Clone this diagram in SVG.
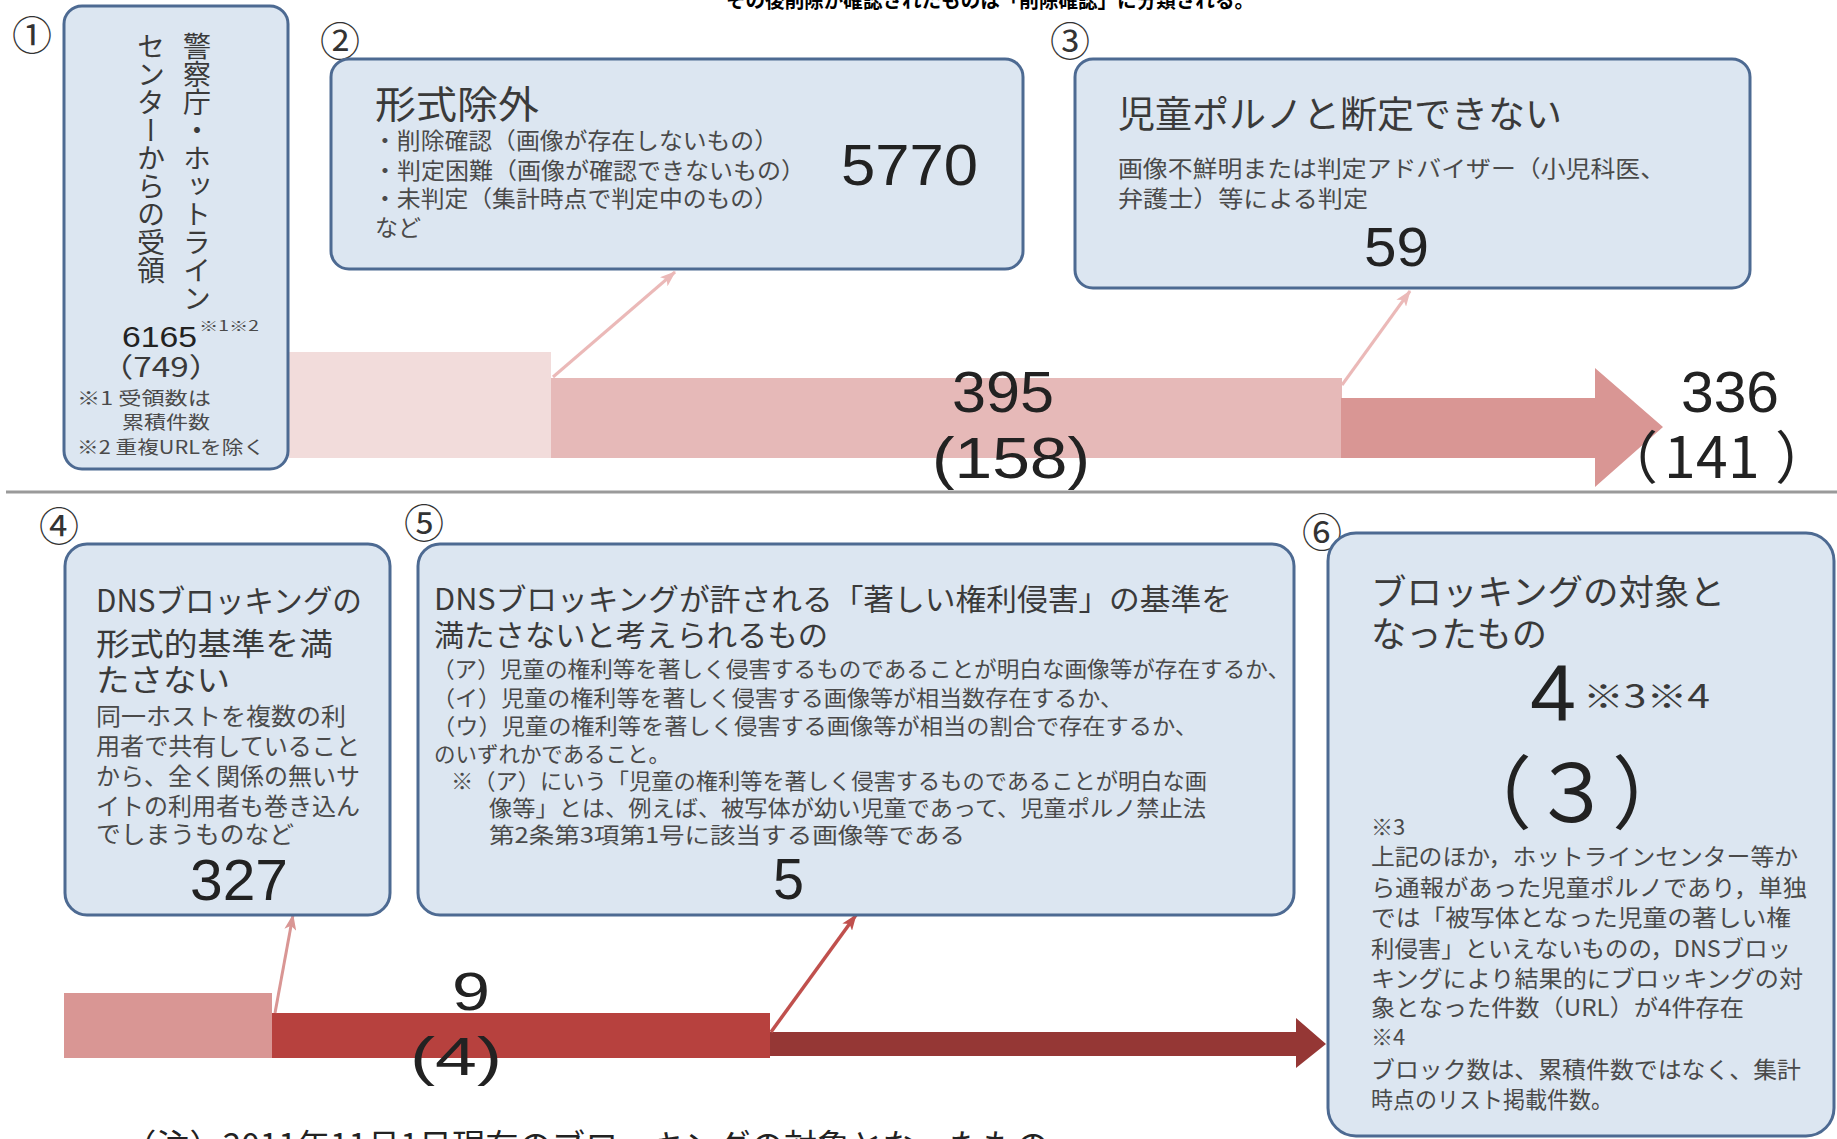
<svg xmlns="http://www.w3.org/2000/svg" width="1837" height="1139" viewBox="0 0 1837 1139">
<style>
.box{fill:#dce6f1;stroke:#4d6a92;stroke-width:3}
.jp{font-family:"Noto Sans CJK JP","Noto Sans",sans-serif}
.num{font-family:"Liberation Sans",Arial,sans-serif;fill:#222}
.ttl{fill:#3a3a3a}
.body{fill:#4a4a4a}
.circ{font-family:"Noto Sans CJK JP","DejaVu Sans",sans-serif;font-size:40px;fill:#333}
.vert{writing-mode:vertical-rl;text-orientation:upright}
</style>
<defs>
<marker id="ahLight" viewBox="0 0 16 12" refX="15" refY="6" markerWidth="16" markerHeight="12" orient="auto" markerUnits="userSpaceOnUse"><path d="M0,0 L16,6 L0,12 L4,6 z" fill="#ebb9b8"/></marker>
<marker id="ahMid" viewBox="0 0 16 12" refX="15" refY="6" markerWidth="16" markerHeight="12" orient="auto" markerUnits="userSpaceOnUse"><path d="M0,0 L16,6 L0,12 L4,6 z" fill="#d99694"/></marker>
<marker id="ahRed" viewBox="0 0 16 12" refX="15" refY="6" markerWidth="16" markerHeight="12" orient="auto" markerUnits="userSpaceOnUse"><path d="M0,0 L16,6 L0,12 L4,6 z" fill="#c0504d"/></marker>
</defs>
<rect width="1837" height="1139" fill="#ffffff"/>

<text class="jp" x="726" y="8" font-size="20" font-weight="bold" fill="#000" textLength="528" lengthAdjust="spacingAndGlyphs">その後削除が確認されたものは「削除確認」に分類される。</text>

<line x1="6" y1="492" x2="1837" y2="492" stroke="#9a9a9a" stroke-width="3"/>

<g id="connectors">
  <rect x="289" y="352" width="262" height="106" fill="#f2dcdb"/>
  <rect x="551" y="378" width="791" height="80" fill="#e6b9b8"/>
  <polygon points="1341,398 1595,398 1595,368 1663,427 1595,487 1595,458 1341,458" fill="#d99694"/>
  <line x1="553" y1="377" x2="675" y2="272" stroke="#ebb9b8" stroke-width="3" marker-end="url(#ahLight)"/>
  <line x1="1342" y1="385" x2="1410" y2="291" stroke="#ebb9b8" stroke-width="3" marker-end="url(#ahLight)"/>

  <rect x="64" y="993" width="208" height="65" fill="#d99694"/>
  <rect x="272" y="1013" width="498" height="45" fill="#b7413e"/>
  <polygon points="770,1032 1296,1032 1296,1018 1326,1044 1296,1068 1296,1056 770,1056" fill="#953735"/>
  <line x1="275" y1="1013" x2="293" y2="915" stroke="#d99694" stroke-width="3" marker-end="url(#ahMid)"/>
  <line x1="771" y1="1032" x2="856" y2="915" stroke="#c0504d" stroke-width="3.5" marker-end="url(#ahRed)"/>

  <text class="num" x="952" y="412" font-size="57" textLength="102" lengthAdjust="spacingAndGlyphs">395</text>
  <text class="num" x="932" y="478" font-size="57" textLength="158" lengthAdjust="spacingAndGlyphs">(158)</text>
  <text class="num" x="1681" y="412" font-size="57" textLength="98" lengthAdjust="spacingAndGlyphs">336</text>
  <text class="jp" y="478" font-size="57" fill="#222" x="1601 1664 1696 1728 1775">（141）</text>
  <text class="num" x="452" y="1010" font-size="54" textLength="38" lengthAdjust="spacingAndGlyphs">9</text>
  <text class="num" x="410" y="1075" font-size="54" textLength="92" lengthAdjust="spacingAndGlyphs">(4)</text>
</g>

<g id="node1">
  <text class="circ" x="12" y="50">①</text>
  <rect class="box" x="64" y="6" width="224" height="463" rx="18"/>
  <text class="jp ttl vert" x="197" y="32" font-size="28">警察庁・ホットライン</text>
  <text class="jp ttl vert" x="151" y="32" font-size="28">センターからの受領</text>
  <text class="num" x="122" y="347" font-size="29" fill="#333" textLength="75" lengthAdjust="spacingAndGlyphs">6165</text>
  <text class="jp body" x="199" y="331" font-size="14" textLength="60" lengthAdjust="spacingAndGlyphs">※1※2</text>
  <text class="jp ttl" x="100" y="377" font-size="27" textLength="122" lengthAdjust="spacingAndGlyphs">（749）</text>
  <text class="jp body" x="77" y="405" font-size="18" textLength="134" lengthAdjust="spacingAndGlyphs">※1 受領数は</text>
  <text class="jp body" x="122" y="429" font-size="18" textLength="88" lengthAdjust="spacingAndGlyphs">累積件数</text>
  <text class="jp body" x="77" y="454" font-size="18" textLength="188" lengthAdjust="spacingAndGlyphs">※2 重複URLを除く</text>
</g>

<g id="node2">
  <text class="circ" x="320" y="56">②</text>
  <rect class="box" x="331" y="59" width="692" height="210" rx="18"/>
  <text class="jp ttl" x="375" y="118" font-size="38" textLength="164" lengthAdjust="spacingAndGlyphs">形式除外</text>
  <text class="jp body" x="373" y="149" font-size="23" textLength="405" lengthAdjust="spacingAndGlyphs">・削除確認（画像が存在しないもの）</text>
  <text class="jp body" x="373" y="179" font-size="23" textLength="432" lengthAdjust="spacingAndGlyphs">・判定困難（画像が確認できないもの）</text>
  <text class="jp body" x="373" y="207" font-size="23" textLength="405" lengthAdjust="spacingAndGlyphs">・未判定（集計時点で判定中のもの）</text>
  <text class="jp body" x="375" y="236" font-size="23">など</text>
  <text class="num" x="841" y="185" font-size="58" textLength="137" lengthAdjust="spacingAndGlyphs">5770</text>
</g>

<g id="node3">
  <text class="circ" x="1050" y="56">③</text>
  <rect class="box" x="1075" y="59" width="675" height="229" rx="18"/>
  <text class="jp ttl" x="1118" y="128" font-size="37" textLength="444" lengthAdjust="spacingAndGlyphs">児童ポルノと断定できない</text>
  <text class="jp body" x="1118" y="177" font-size="23" textLength="547" lengthAdjust="spacingAndGlyphs">画像不鮮明または判定アドバイザー（小児科医、</text>
  <text class="jp body" x="1118" y="207" font-size="23" textLength="250" lengthAdjust="spacingAndGlyphs">弁護士）等による判定</text>
  <text class="num" x="1364" y="266" font-size="56" textLength="65" lengthAdjust="spacingAndGlyphs">59</text>
</g>

<g id="node4">
  <text class="circ" x="39" y="541">④</text>
  <rect class="box" x="65" y="544" width="325" height="371" rx="22"/>
  <text class="jp ttl" x="96" y="612" font-size="31" textLength="266" lengthAdjust="spacingAndGlyphs">DNSブロッキングの</text>
  <text class="jp ttl" x="96" y="655" font-size="31" textLength="237" lengthAdjust="spacingAndGlyphs">形式的基準を満</text>
  <text class="jp ttl" x="96" y="691" font-size="31" textLength="134" lengthAdjust="spacingAndGlyphs">たさない</text>
  <text class="jp body" x="96" y="725" font-size="24" textLength="250" lengthAdjust="spacingAndGlyphs">同一ホストを複数の利</text>
  <text class="jp body" x="96" y="755" font-size="24" textLength="264" lengthAdjust="spacingAndGlyphs">用者で共有していること</text>
  <text class="jp body" x="96" y="785" font-size="24" textLength="264" lengthAdjust="spacingAndGlyphs">から、全く関係の無いサ</text>
  <text class="jp body" x="96" y="815" font-size="24" textLength="264" lengthAdjust="spacingAndGlyphs">イトの利用者も巻き込ん</text>
  <text class="jp body" x="96" y="843" font-size="24" textLength="198" lengthAdjust="spacingAndGlyphs">でしまうものなど</text>
  <text class="num" x="190" y="900" font-size="57" textLength="98" lengthAdjust="spacingAndGlyphs">327</text>
</g>

<g id="node5">
  <text class="circ" x="404" y="538">⑤</text>
  <rect class="box" x="418" y="544" width="876" height="371" rx="22"/>
  <text class="jp ttl" x="434" y="610" font-size="30" textLength="798" lengthAdjust="spacingAndGlyphs">DNSブロッキングが許される「著しい権利侵害」の基準を</text>
  <text class="jp ttl" x="434" y="646" font-size="30" textLength="394" lengthAdjust="spacingAndGlyphs">満たさないと考えられるもの</text>
  <text class="jp body" x="432" y="677" font-size="22" textLength="858" lengthAdjust="spacingAndGlyphs">（ア）児童の権利等を著しく侵害するものであることが明白な画像等が存在するか、</text>
  <text class="jp body" x="432" y="706" font-size="22" textLength="691" lengthAdjust="spacingAndGlyphs">（イ）児童の権利等を著しく侵害する画像等が相当数存在するか、</text>
  <text class="jp body" x="432" y="734" font-size="22" textLength="766" lengthAdjust="spacingAndGlyphs">（ウ）児童の権利等を著しく侵害する画像等が相当の割合で存在するか、</text>
  <text class="jp body" x="434" y="762" font-size="22" textLength="236" lengthAdjust="spacingAndGlyphs">のいずれかであること。</text>
  <text class="jp body" x="451" y="789" font-size="22" textLength="756" lengthAdjust="spacingAndGlyphs">※（ア）にいう「児童の権利等を著しく侵害するものであることが明白な画</text>
  <text class="jp body" x="489" y="816" font-size="22" textLength="717" lengthAdjust="spacingAndGlyphs">像等」とは、例えば、被写体が幼い児童であって、児童ポルノ禁止法</text>
  <text class="jp body" x="489" y="843" font-size="22" textLength="476" lengthAdjust="spacingAndGlyphs">第2条第3項第1号に該当する画像等である</text>
  <text class="num" x="773" y="899" font-size="57" textLength="31" lengthAdjust="spacingAndGlyphs">5</text>
</g>

<g id="node6">
  <text class="circ" x="1302" y="547">⑥</text>
  <rect class="box" x="1328" y="533" width="506" height="603" rx="28"/>
  <text class="jp ttl" x="1371" y="605" font-size="35" textLength="354" lengthAdjust="spacingAndGlyphs">ブロッキングの対象と</text>
  <text class="jp ttl" x="1371" y="647" font-size="35" textLength="176" lengthAdjust="spacingAndGlyphs">なったもの</text>
  <text class="num" x="1530" y="720" font-size="80" textLength="46" lengthAdjust="spacingAndGlyphs">4</text>
  <text class="jp ttl" x="1583" y="708" font-size="32" textLength="127" lengthAdjust="spacingAndGlyphs">※3※4</text>
  <text class="jp" x="1452" y="822" font-size="80" fill="#222">（３）</text>
  <text class="jp body" x="1371" y="835" font-size="22">※3</text>
  <text class="jp body" x="1371" y="865" font-size="23" textLength="427" lengthAdjust="spacingAndGlyphs">上記のほか，ホットラインセンター等か</text>
  <text class="jp body" x="1371" y="896" font-size="23" textLength="436" lengthAdjust="spacingAndGlyphs">ら通報があった児童ポルノであり，単独</text>
  <text class="jp body" x="1371" y="926" font-size="23" textLength="420" lengthAdjust="spacingAndGlyphs">では「被写体となった児童の著しい権</text>
  <text class="jp body" x="1371" y="957" font-size="23" textLength="420" lengthAdjust="spacingAndGlyphs">利侵害」といえないものの，DNSブロッ</text>
  <text class="jp body" x="1371" y="987" font-size="23" textLength="432" lengthAdjust="spacingAndGlyphs">キングにより結果的にブロッキングの対</text>
  <text class="jp body" x="1371" y="1016" font-size="23" textLength="373" lengthAdjust="spacingAndGlyphs">象となった件数（URL）が4件存在</text>
  <text class="jp body" x="1371" y="1045" font-size="22">※4</text>
  <text class="jp body" x="1371" y="1078" font-size="23" textLength="430" lengthAdjust="spacingAndGlyphs">ブロック数は、累積件数ではなく、集計</text>
  <text class="jp body" x="1371" y="1108" font-size="23" textLength="242" lengthAdjust="spacingAndGlyphs">時点のリスト掲載件数。</text>
</g>

<text class="jp" x="123" y="1157" font-size="32" fill="#222" textLength="926" lengthAdjust="spacingAndGlyphs">（注）2011年11月1日現在のブロッキングの対象となったもの</text>
</svg>
